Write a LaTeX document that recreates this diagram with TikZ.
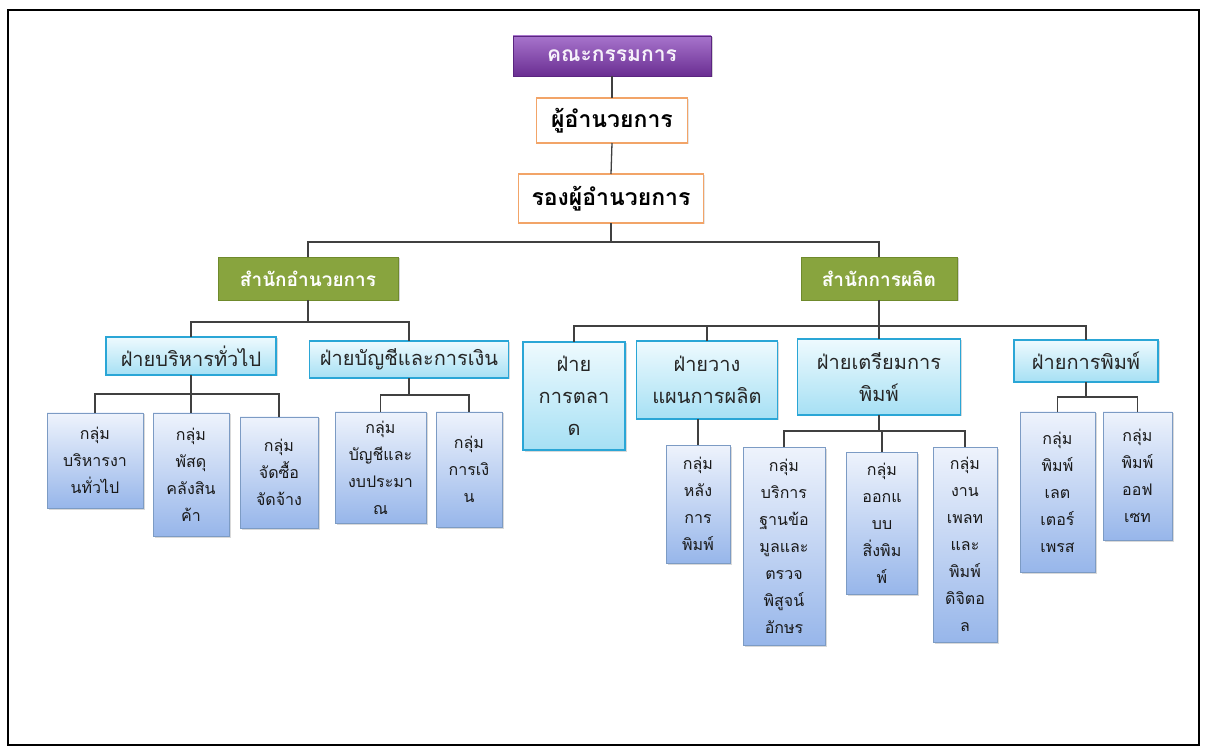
\documentclass[tikz,border=0pt]{standalone}
\usepackage{fontspec}
\setmainfont[Script=Thai]{Loma}
\usetikzlibrary{shadows}
\definecolor{purpT}{HTML}{A774CC}
\definecolor{purpB}{HTML}{6A2E92}
\definecolor{purpD}{HTML}{5A2580}
\definecolor{greenF}{HTML}{88A43E}
\definecolor{greenD}{HTML}{6F8A2C}
\definecolor{orangeD}{HTML}{F2A468}
\definecolor{cyanT}{HTML}{EEFAFE}
\definecolor{cyanB}{HTML}{A6E0F4}
\definecolor{cyanD}{HTML}{2AA6D6}
\definecolor{blueT}{HTML}{EEF3FC}
\definecolor{blueB}{HTML}{97B6EA}
\definecolor{blueD}{HTML}{7C9BC4}
\definecolor{connC}{HTML}{404040}
\tikzset{
  boardbox/.style={draw=purpD, line width=0.8pt, top color=purpT, bottom color=purpB,
    text=white!90!purpT, font=\fontsize{21}{24}\selectfont\bfseries,
    drop shadow={shadow xshift=1.5pt, shadow yshift=-1.5pt, opacity=0.35}},
  headbox/.style={draw=orangeD, line width=1.6pt, fill=white, text=black,
    font=\fontsize{23}{26}\selectfont\bfseries,
    drop shadow={shadow xshift=1.5pt, shadow yshift=-1.5pt, opacity=0.2}},
  officebox/.style={draw=greenD, line width=0.8pt, fill=greenF, text=white,
    font=\fontsize{19}{22}\selectfont\bfseries,
    drop shadow={shadow xshift=1.5pt, shadow yshift=-1.5pt, opacity=0.35}},
  deptbox/.style={draw=cyanD, line width=1.6pt, top color=cyanT, bottom color=cyanB,
    text=black!85, align=center, font=\fontsize{20}{32}\selectfont,
    drop shadow={shadow xshift=1.5pt, shadow yshift=-1.5pt, opacity=0.3}},
  groupbox/.style={draw=blueD, line width=0.9pt, top color=blueT, bottom color=blueB,
    text=black!90, align=center, font=\fontsize{16}{27}\selectfont,
    drop shadow={shadow xshift=1.5pt, shadow yshift=-1.5pt, opacity=0.3}},
  conn/.style={draw=connC, line width=1.3pt},
  inner sep=0pt, outer sep=0pt
}
\begin{document}
\begin{tikzpicture}[x=1pt,y=-1pt]
\useasboundingbox (0,0) rectangle (1211,751);
\draw[line width=1.6pt] (8,10) rectangle (1199,745);
% top levels
\node[boardbox, minimum width=198pt, minimum height=40pt] (board) at (612,56) {คณะกรรมการ};
\node[headbox, minimum width=151pt, minimum height=45pt] (dir) at (612,120.5) {ผู้อำนวยการ};
\node[headbox, minimum width=185pt, minimum height=49pt] (vdir) at (611,198.5) {รองผู้อำนวยการ};
\node[officebox, minimum width=180pt, minimum height=43pt] (off1) at (308,278.5) {สำนักอำนวยการ};
\node[officebox, minimum width=156pt, minimum height=43pt] (off2) at (879,278.5) {สำนักการผลิต};
% departments
\node[deptbox, minimum width=170pt, minimum height=38pt] (d1) at (191,356) {ฝ่ายบริหารทั่วไป};
\node[deptbox, minimum width=199pt, minimum height=37pt] (d2) at (409,359.5) {ฝ่ายบัญชีและการเงิน};
\node[deptbox, minimum width=102pt, minimum height=108pt] (d3) at (574,396) {ฝ่าย\\การตลา\\ด};
\node[deptbox, minimum width=141pt, minimum height=78pt] (d4) at (707,380) {ฝ่ายวาง\\แผนการผลิต};
\node[deptbox, minimum width=163pt, minimum height=76pt] (d5) at (879,377) {ฝ่ายเตรียมการ\\พิมพ์};
\node[deptbox, minimum width=144pt, minimum height=42pt] (d6) at (1086,361) {ฝ่ายการพิมพ์};
% groups
\node[groupbox, minimum width=96pt, minimum height=95pt] (g1) at (95,460.5) {กลุ่ม\\บริหารงา\\นทั่วไป};
\node[groupbox, minimum width=76pt, minimum height=123pt] (g2) at (191,474.5) {กลุ่ม\\พัสดุ\\คลังสิน\\ค้า};
\node[groupbox, minimum width=78pt, minimum height=111pt] (g3) at (279,472.5) {กลุ่ม\\จัดซื้อ\\จัดจ้าง};
\node[groupbox, minimum width=91pt, minimum height=111pt] (g4) at (380.5,467.5) {กลุ่ม\\บัญชีและ\\งบประมา\\ณ};
\node[groupbox, minimum width=66pt, minimum height=115pt] (g5) at (469,469.5) {กลุ่ม\\การเงิ\\น};
\node[groupbox, minimum width=64pt, minimum height=118pt] (g6) at (698,504) {กลุ่ม\\หลัง\\การ\\พิมพ์};
\node[groupbox, minimum width=82pt, minimum height=198pt] (g7) at (784,546) {กลุ่ม\\บริการ\\ฐานข้อ\\มูลและ\\ตรวจ\\พิสูจน์\\อักษร};
\node[groupbox, minimum width=71pt, minimum height=142pt] (g8) at (882,523) {กลุ่ม\\ออกแ\\บบ\\สิ่งพิม\\พ์};
\node[groupbox, minimum width=64pt, minimum height=195pt] (g9) at (965,544.5) {กลุ่ม\\งาน\\เพลท\\และ\\พิมพ์\\ดิจิตอ\\ล};
\node[groupbox, minimum width=75pt, minimum height=160pt] (g10) at (1057.5,492) {กลุ่ม\\พิมพ์\\เลต\\เตอร์\\เพรส};
\node[groupbox, minimum width=69pt, minimum height=128pt] (g11) at (1137.5,476) {กลุ่ม\\พิมพ์\\ออฟ\\เซท};
% connectors
\draw[conn] (board.south) -- (dir.north);
\draw[conn] (dir.south) -- (vdir.north);
\coordinate (b0) at (vdir.south |- 0,242);
\draw[conn] (vdir.south) -- (b0);
\draw[conn] (off1.north) |- (b0) -| (off2.north);
\coordinate (b1) at (off1.south |- 0,322);
\draw[conn] (off1.south) -- (b1);
\draw[conn] (d1.north) |- (b1) -| (d2.north);
\coordinate (b2) at (off2.south |- 0,326);
\draw[conn] (off2.south) -- (b2);
\draw[conn] (d3.north) |- (b2) -| (d6.north);
\draw[conn] (d4.north) -- (d4.north |- b2);
\draw[conn] (d5.north) -- (d5.north |- b2);
\coordinate (b3) at (d1.south |- 0,394);
\draw[conn] (d1.south) -- (b3);
\draw[conn] (g1.north) |- (b3) -| (g3.north);
\draw[conn] (g2.north) -- (g2.north |- b3);
\coordinate (b4) at (d2.south |- 0,395);
\draw[conn] (d2.south) -- (b4);
\draw[conn] (g4.north) |- (b4) -| (g5.north);
\draw[conn] (d4.south -| g6.north) -- (g6.north);
\coordinate (b5) at (d5.south |- 0,431);
\draw[conn] (d5.south) -- (b5);
\draw[conn] (g7.north) |- (b5) -| (g9.north);
\draw[conn] (g8.north) -- (g8.north |- b5);
\coordinate (b6) at (d6.south |- 0,397);
\draw[conn] (d6.south) -- (b6);
\draw[conn] (g10.north) |- (b6) -| (g11.north);
\end{tikzpicture}
\end{document}
